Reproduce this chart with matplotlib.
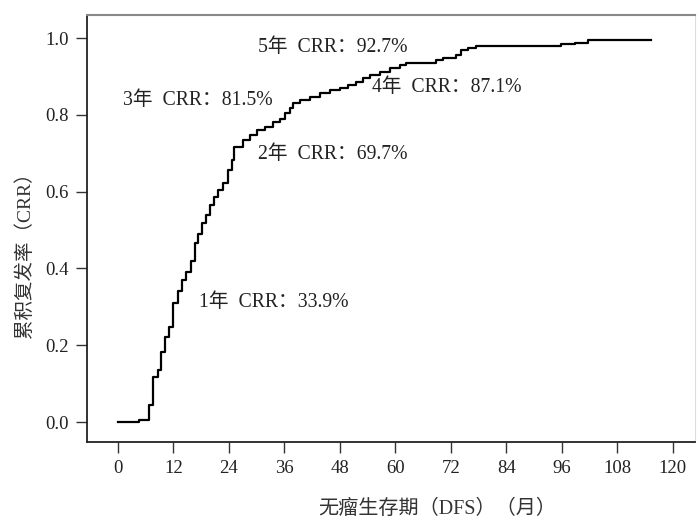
import matplotlib.pyplot as plt

plt.rcParams['font.family'] = ['Liberation Serif', 'Noto Sans CJK SC', 'DejaVu Sans']

# step curve (months, cumulative recurrence)
months = [0, 4.5, 6.8, 7.6, 8.6, 9.4, 10.2, 11.1, 12.0, 12.9, 13.8, 14.7, 15.9,
          16.6, 17.4, 18.1, 19.0, 19.9, 20.8, 21.7, 22.8, 23.9, 24.6, 25.1, 27.0,
          28.5, 30.0, 31.8, 33.6, 35.0, 36.1, 37.2, 37.9, 39.4, 41.5, 43.7, 45.8,
          48.0, 49.8, 51.6, 53.0, 54.5, 56.6, 58.8, 61.0, 62.4, 68.9, 70.3, 73.2,
          74.3, 75.7, 77.5, 95.9, 98.8, 101.7, 115.4]
crr = [0, 0.005, 0.044, 0.118, 0.135, 0.183, 0.222, 0.248, 0.31, 0.34, 0.37, 0.39,
       0.42, 0.466, 0.49, 0.518, 0.539, 0.565, 0.587, 0.604, 0.622, 0.656, 0.682,
       0.717, 0.734, 0.747, 0.76, 0.769, 0.782, 0.79, 0.804, 0.817, 0.83, 0.839,
       0.847, 0.856, 0.865, 0.869, 0.878, 0.886, 0.895, 0.904, 0.912, 0.921, 0.93,
       0.934, 0.943, 0.947, 0.956, 0.969, 0.973, 0.98, 0.984, 0.988, 0.995, 0.995]

labels = ['1年  CRR：33.9%', '2年  CRR：69.7%', '3年  CRR：81.5%',
          '4年  CRR：87.1%', '5年  CRR：92.7%']
label_x = [17.5, 30.3, 1.1, 54.9, 30.3]
label_y = [0.31, 0.696, 0.837, 0.871, 0.975]

xticks = [0, 12, 24, 36, 48, 60, 72, 84, 96, 108, 120]
yticks = [0.0, 0.2, 0.4, 0.6, 0.8, 1.0]

fig = plt.figure(figsize=(6.97, 5.19), dpi=100)
ax = fig.add_axes([0.1248, 0.1484, 0.872, 0.8226])

ax.step(months, crr, where='post', color='black', lw=1.6)

for t, x, y in zip(labels, label_x, label_y):
    ax.text(x, y, t, fontsize=14.2, ha='left', va='center', color='#222222')

ax.set_xlim(-6.7, 124.8)
ax.set_ylim(-0.052, 1.06)
ax.set_xticks(xticks)
ax.set_yticks(yticks)
ax.set_yticklabels([f'{v:.1f}' for v in yticks])
ax.tick_params(direction='out', length=8, width=1, color='#333333',
               labelsize=13.5, labelcolor='#222222', pad=5)

for s in ['left', 'bottom']:
    ax.spines[s].set_color('#222222')
    ax.spines[s].set_linewidth(1.3)
ax.spines['top'].set_color('#888888')
ax.spines['top'].set_linewidth(1.5)
ax.spines['right'].set_color('#dddddd')

ax.set_xlabel('无瘤生存期（DFS）（月）', fontsize=14.5, color='#333333')
ax.xaxis.set_label_coords(0.577, -0.135)
ax.set_ylabel('累积复发率（CRR）', fontsize=14, color='#333333')
ax.yaxis.set_label_coords(-0.087, 0.45)

fig.savefig('out.png', dpi=100)
